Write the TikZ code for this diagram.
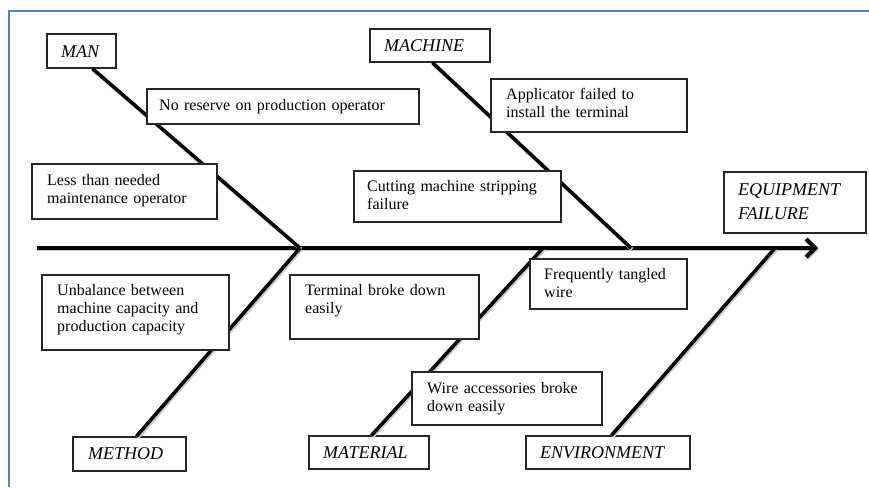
\documentclass[tikz,border=0pt]{standalone}
\usepackage{fontspec}
\setmainfont{Liberation Serif}
\usetikzlibrary{arrows.meta,fit}
\definecolor{frameblue}{RGB}{84,130,190}
\begin{document}
\begin{tikzpicture}[x=1pt,y=-1pt,
  boxframe/.style={draw=black!85, line width=1.2pt, fill=white, inner sep=0pt},
  cattext/.style={font=\fontsize{18}{24}\selectfont\itshape, inner sep=0pt, anchor=base west,
                  text width=160pt, align=left},
  causetext/.style={font=\fontsize{16}{18}\selectfont, inner sep=0pt, anchor=base west,
                    text width=300pt, align=left},
  bone/.style={line width=3.5pt, black,
               preaction={draw=black!22, line width=4pt,
                          transform canvas={shift={(1pt,-1.3pt)}}}},
  spine/.style={bone, line width=4.2pt}
]
\useasboundingbox (0,0) rectangle (869,487);
\fill[white] (0,0) rectangle (869,487);
% page frame
\draw[frameblue, line width=1.6pt] (869,11) -- (9,11) -- (9,487);

% category boxes
\node[boxframe, fit={(47,34) (116,68)}] (man) {};
\node[cattext] (man-t) at (61,57) {MAN};
\node[boxframe, fit={(370,29) (490,62)}] (machine) {};
\node[cattext] (machine-t) at (384,52) {MACHINE};
\node[boxframe, fit={(73,437) (186,471)}] (method) {};
\node[cattext] (method-t) at (88,459) {METHOD};
\node[boxframe, fit={(309,436) (429,469)}] (material) {};
\node[cattext] (material-t) at (323,458) {MATERIAL};
\node[boxframe, fit={(526,436) (690,469)}] (environment) {};
\node[cattext] (environment-t) at (540,458) {ENVIRONMENT};
\node[boxframe, fit={(724,172) (866,233)}] (effect) {};
\node[cattext] (effect-t) at (738,195) {EQUIPMENT\\FAILURE};

% spine and bones
\coordinate (tail) at (37,248);
\coordinate (head) at (818,248);
\coordinate (jman) at (300,248);
\coordinate (jmachine) at (631,248);
\coordinate (jmaterial) at (543,248);
\coordinate (jenv) at (775,248);
\draw[spine, -{Straight Barb[length=9pt,width=18pt]}] (tail) -- (head);
\draw[bone] ([xshift=46pt]man.south west) -- (jman);
\draw[bone] ([xshift=64pt]method.north west) -- (jman);
\draw[bone] ([xshift=63pt]machine.south west) -- (jmachine);
\draw[bone] ([xshift=63pt]material.north west) -- (jmaterial);
\draw[bone] ([xshift=86pt]environment.north west) -- (jenv);

% cause boxes
\node[boxframe, fit={(147,89) (419,124)}] (noreserve) {};
\node[causetext] (noreserve-t) at (159,110) {No reserve on production operator};
\node[boxframe, fit={(32,164) (217,219)}] (lessmaint) {};
\node[causetext] (lessmaint-t) at (47,185) {Less than needed\\maintenance operator};
\node[boxframe, fit={(491,79) (687,132)}] (applicator) {};
\node[causetext] (applicator-t) at (506,99) {Applicator failed to\\install the terminal};
\node[boxframe, fit={(354,171) (561,222)}] (cutting) {};
\node[causetext] (cutting-t) at (367,191) {Cutting machine stripping\\failure};
\node[boxframe, fit={(42,275) (229,350)}] (unbalance) {};
\node[causetext] (unbalance-t) at (57,295) {Unbalance between\\machine capacity and\\production capacity};
\node[boxframe, fit={(290,275) (479,339)}] (terminal) {};
\node[causetext] (terminal-t) at (305,295) {Terminal broke down\\easily};
\node[boxframe, fit={(530,259) (687,309)}] (tangled) {};
\node[causetext] (tangled-t) at (544,279) {Frequently tangled\\wire};
\node[boxframe, fit={(412,372) (602,425)}] (wire) {};
\node[causetext] (wire-t) at (427,393) {Wire accessories broke\\down easily};
\end{tikzpicture}
\end{document}
